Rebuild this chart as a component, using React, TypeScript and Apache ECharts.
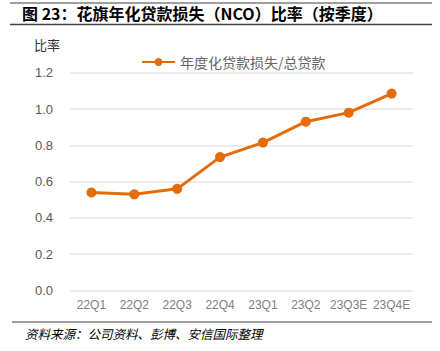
import React, { useEffect, useRef } from "react";
import * as echarts from "echarts";

const categories = ["22Q1", "22Q2", "22Q3", "22Q4", "23Q1", "23Q2", "23Q3E", "23Q4E"];
const ratioValues = [0.54, 0.53, 0.56, 0.735, 0.815, 0.93, 0.98, 1.085];
const seriesName = "年度化贷款损失/总贷款";
const titleText = "图 23：花旗年化贷款损失（NCO）比率（按季度）";
const sourceText = "资料来源：公司资料、彭博、安信国际整理";
const yAxisName = "比率";

export default function App() {
  const ref = useRef<HTMLDivElement>(null);
  useEffect(() => {
    if (!ref.current) return;
    const chart = echarts.init(ref.current, null, { renderer: "svg" });
    const orange = "#E46C0A";
    chart.setOption({
      animation: false,
      backgroundColor: "#ffffff",
      grid: { left: 70, right: 27, top: 72.7, bottom: 60.5, containLabel: false },
      legend: {
        data: [seriesName],
        left: 141,
        top: 55,
        padding: 0,
        itemWidth: 33,
        itemHeight: 10,
        itemGap: 4,
        textStyle: { color: "#666666", fontSize: 14, fontFamily: "Noto Sans CJK SC" },
      },
      xAxis: {
        type: "category",
        data: categories,
        boundaryGap: true,
        axisLine: { show: false },
        axisTick: { show: false },
        axisLabel: {
          interval: 0,
          color: "#808080",
          fontSize: 12,
          margin: 8,
          fontFamily: "Liberation Sans, Arial",
        },
      },
      yAxis: {
        type: "value",
        min: 0,
        max: 1.2,
        interval: 0.2,
        axisLine: { show: false },
        axisTick: { show: false },
        splitLine: { lineStyle: { color: "#e6e6e6", width: 1.5 } },
        axisLabel: {
          color: "#595959",
          fontSize: 13,
          margin: 17,
          fontFamily: "Liberation Sans, Arial",
          formatter: (v: number) => v.toFixed(1),
        },
      },
      series: [
        {
          name: seriesName,
          type: "line",
          data: ratioValues,
          symbol: "circle",
          symbolSize: 10,
          lineStyle: { color: orange, width: 3 },
          itemStyle: { color: orange },
        },
      ],
      graphic: [
        { type: "line", shape: { x1: 10, y1: 3, x2: 432, y2: 3 }, style: { stroke: "#7f7f7f", lineWidth: 1.5 } },
        { type: "line", shape: { x1: 10, y1: 24.5, x2: 432, y2: 24.5 }, style: { stroke: "#404040", lineWidth: 1.5 } },
        {
          type: "text",
          left: 22,
          top: 5,
          style: {
            text: titleText,
            fill: "#000000",
            fontSize: 16,
            fontWeight: "bold",
            fontFamily: "Noto Sans CJK SC",
          },
        },
        {
          type: "text",
          left: 34,
          top: 38,
          style: { text: yAxisName, fill: "#333333", fontSize: 13, fontFamily: "Noto Sans CJK SC" },
        },
        { type: "line", shape: { x1: 12, y1: 322, x2: 432, y2: 322 }, style: { stroke: "#404040", lineWidth: 1 } },
        {
          type: "text",
          left: 25,
          top: 327,
          style: {
            text: sourceText,
            fill: "#000000",
            fontSize: 12.5,
            fontStyle: "italic",
            fontFamily: "Noto Sans CJK SC",
          },
        },
      ],
    });
    return () => chart.dispose();
  }, []);
  return <div ref={ref} style={{ width: 440, height: 351, position: "absolute", left: 0, top: 0 }} />;
}
